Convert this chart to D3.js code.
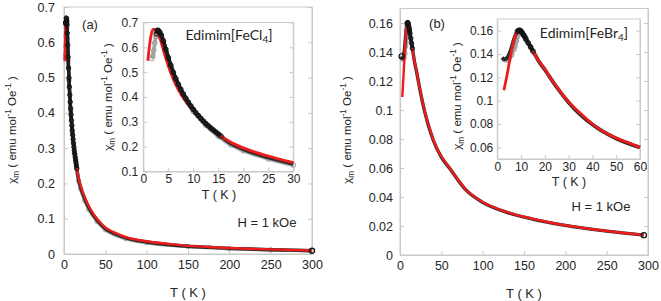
<!DOCTYPE html>
<html>
<head>
<meta charset="utf-8">
<script src="https://cdn.jsdelivr.net/npm/d3@7"></script>
<style>
body{margin:0;background:#fff}
text{font-family:"Liberation Sans",Arial,sans-serif;fill:#262626}
.lbl{font-family:Lato,"Noto Sans",sans-serif}
</style>
</head>
<body>
<svg id="chart" width="661" height="301"></svg>
<script>
// ---- data ----
// panel (a) Edimim[FeCl4]
var tFitA = [0.9,1.2,1.5,1.8,2.1,2.5,3,3.5,4,5,6,7,8,9,10,11,12.5,14,15,17.5,20,22.5,25,27.5,30,35,40,50,60,75,100,125,150,175,200,250,300]
var chiFitA = [0.546,0.600,0.643,0.667,0.673,0.668,0.652,0.625,0.590,0.525,0.472,0.430,0.396,0.368,0.345,0.324,0.293,0.267,0.250,0.218,0.195,0.177,0.162,0.148,0.136,0.116,0.100,0.075,0.062,0.048,0.036,0.029,0.023,0.020,0.017,0.013,0.010]
var tDatA = [2.6,2.8,3,3.3,3.6,4,4.5,5,5.5,6,6.5,7,7.5,8,8.5,9,9.5,10,10.5,11,11.5,12,12.5,13,13.5,14,14.5,15,15.5,17.5,20,25,30,40,50,60,75,100,125,150,175,200,225,250,275,300]
var chiDatA = [0.655,0.668,0.668,0.661,0.649,0.626,0.592,0.558,0.527,0.499,0.474,0.451,0.431,0.412,0.395,0.379,0.364,0.350,0.337,0.325,0.314,0.303,0.293,0.284,0.275,0.267,0.259,0.251,0.243,0.213,0.190,0.157,0.131,0.096,0.072,0.059,0.046,0.034,0.027,0.022,0.019,0.016,0.014,0.012,0.011,0.009]
var tGrayA = [1.7,1.9,2.1,2.3,2.5,2.7,3,3.5,4,5,6,8,10,12.5,15,17.5,20,25,30,40,50,75,100,150,200,250,300]
var chiGrayA = [0.555,0.565,0.588,0.618,0.643,0.657,0.658,0.640,0.612,0.548,0.492,0.405,0.342,0.286,0.242,0.207,0.184,0.151,0.126,0.092,0.069,0.043,0.032,0.021,0.015,0.012,0.009]

// panel (b) Edimim[FeBr4]
var tFitB = [2.8,3.5,4,5,6,7,8,9,10,11,12,13,15,17.5,20,22.5,25,27.5,30,35,40,45,50,55,60,70,80,100,130,160,200,240,295]
var chiFitB = [0.109,0.116,0.121,0.132,0.143,0.152,0.158,0.1605,0.160,0.157,0.153,0.149,0.142,0.134,0.127,0.119,0.112,0.105,0.099,0.089,0.080,0.073,0.068,0.064,0.060,0.052,0.045,0.0365,0.0295,0.025,0.0205,0.0172,0.0138]
var tDatB = [2,2.5,3,3.5,4,4.5,5,5.5,6,6.5,7,7.5,8,8.5,9,9.5,10,10.5,11,11.5,12,13,14,15,17.5,20,25,30,40,50,60,80,100,130,160,200,250,295]
var chiDatB = [0.137,0.136,0.1355,0.1357,0.1365,0.138,0.140,0.1425,0.1455,0.149,0.1525,0.1555,0.158,0.1595,0.1602,0.1603,0.1595,0.158,0.1565,0.155,0.153,0.1495,0.146,0.1425,0.1335,0.1265,0.1115,0.0985,0.0795,0.0675,0.0598,0.0447,0.0363,0.0293,0.0248,0.0204,0.0165,0.0137]
var tGrayB = [3,4,5,6,7,7.5,8,8.5,9,9.5,10,11,12]
var chiGrayB = [0.135,0.135,0.136,0.139,0.144,0.147,0.151,0.155,0.158,0.159,0.159,0.156,0.152]

// ticks
var xTicksMain = [0,50,100,150,200,250,300]
var yTicksA = [0,0.1,0.2,0.3,0.4,0.5,0.6,0.7]
var xTicksAIn = [0,5,10,15,20,25,30]
var yTicksAIn = [0.1,0.2,0.3,0.4,0.5,0.6,0.7]
var yTicksB = [0,0.02,0.04,0.06,0.08,0.1,0.12,0.14,0.16]
var xTicksBIn = [0,10,20,30,40,50,60]
var yTicksBIn = [0.06,0.08,0.1,0.12,0.14,0.16]

var svg = d3.select("#chart")
var red = "#ee1c1c"
var frameCol = "#c9c9c9"
var fmt = function(d){ return String(+d.toFixed(3)) }

function zip(t, c){
  return t.map(function(d, i){ return {t: d, c: c[i]} })
}

function yTitle(g, x, y, size){
  var t = g.append("text")
      .attr("transform", "translate(" + x + "," + y + ") rotate(-90)")
      .attr("text-anchor", "middle")
      .style("font-size", size + "px")
  var sub = size * 0.72
  t.append("tspan").text("χ")
  t.append("tspan").attr("dy", size * 0.3).style("font-size", sub + "px").text("m")
  t.append("tspan").attr("dy", -size * 0.3).text(" ( emu mol")
  t.append("tspan").attr("dy", -size * 0.4).style("font-size", sub + "px").text("-1")
  t.append("tspan").attr("dy", size * 0.4).text(" Oe")
  t.append("tspan").attr("dy", -size * 0.4).style("font-size", sub + "px").text("-1")
  t.append("tspan").attr("dy", size * 0.4).text(" )")
}

// one plot area (main or inset)
function plot(o){
  var x = d3.scaleLinear().domain(o.xd).range(o.xr)
  var y = d3.scaleLinear().domain(o.yd).range(o.yr)
  var g = svg.append("g")

  g.append("rect")
      .attr("x", o.xr[0]).attr("y", o.yr[1])
      .attr("width", o.xr[1] - o.xr[0]).attr("height", o.yr[0] - o.yr[1])
      .attr("fill", "#fff").attr("stroke", frameCol).attr("stroke-width", 1)

  var ax = g.append("g")
      .attr("transform", "translate(0," + o.yr[0] + ")")
      .call(d3.axisBottom(x).tickValues(o.xt).tickSizeInner(-4).tickSizeOuter(0).tickPadding(o.xpad).tickFormat(fmt))
  var ay = g.append("g")
      .attr("transform", "translate(" + o.xr[0] + ",0)")
      .call(d3.axisLeft(y).tickValues(o.yt).tickSizeInner(-4).tickSizeOuter(0).tickPadding(o.ypad).tickFormat(fmt))
  var ar = g.append("g")
      .attr("transform", "translate(" + o.xr[1] + ",0)")
      .call(d3.axisRight(y).tickValues(o.yt).tickSizeInner(-4).tickSizeOuter(0).tickFormat(""))
  ;[ax, ay, ar].forEach(function(a){
    a.select(".domain").attr("stroke", frameCol)
    a.selectAll(".tick line").attr("stroke", frameCol)
    a.selectAll(".tick text").style("font-size", o.fs + "px").attr("fill", "#262626")
  })

  var inX = function(d){ return d.t >= o.xd[0] && d.t <= o.xd[1] }
  var line = d3.line()
      .x(function(d){ return x(d.t) })
      .y(function(d){ return y(d.c) })
      .curve(d3.curveMonotoneX)

  var gray = zip(o.tg, o.cg).filter(inX)
  var dat = zip(o.td, o.cd).filter(inX)
  var fit = zip(o.tf, o.cf).filter(inX)
  var top = dat.filter(function(d){ return d.t >= o.topFrom && d.t <= 15.5 })

  // gray measurement
  g.append("path").datum(gray).attr("d", line)
      .attr("fill", "none").attr("stroke", "#a8a8a8").attr("stroke-width", o.lw + 1)
  g.append("g").selectAll("circle").data(gray).enter().append("circle")
      .attr("cx", function(d){ return x(d.t) }).attr("cy", function(d){ return y(d.c) })
      .attr("r", o.r).attr("fill", "none").attr("stroke", "#9a9a9a").attr("stroke-width", 0.9)

  // black measurement underneath
  g.append("path").datum(dat).attr("d", line)
      .attr("fill", "none").attr("stroke", "#2a2a2a").attr("stroke-width", o.lw + 1)

  // red fit
  g.append("path").datum(fit).attr("d", line)
      .attr("fill", "none").attr("stroke", red).attr("stroke-width", o.lw)

  // black open circles drawn over the fit near the peak
  g.append("path").datum(top).attr("d", line)
      .attr("fill", "none").attr("stroke", "#1e1e1e").attr("stroke-width", o.lw + 1)
  g.append("g").selectAll("circle").data(top).enter().append("circle")
      .attr("cx", function(d){ return x(d.t) }).attr("cy", function(d){ return y(d.c) })
      .attr("r", o.r).attr("fill", "none").attr("stroke", "#111").attr("stroke-width", 1)

  // end markers
  if(o.endMark){
    var last = dat[dat.length - 1], first = dat[0]
    ;[first, last].forEach(function(d){
      g.append("circle").attr("cx", x(d.t)).attr("cy", y(d.c)).attr("r", 2.6)
        .attr("fill", "none").attr("stroke", "#111").attr("stroke-width", 1.2)
    })
  }
  return g
}

// ---- panel (a) ----
plot({xd: [0, 300], xr: [64, 312], yd: [0, 0.7], yr: [254, 7], xt: xTicksMain, yt: yTicksA,
      xpad: 6, ypad: 9, fs: 12.5, lw: 2.4, r: 2.2, topFrom: 2.5, endMark: true,
      tf: tFitA, cf: chiFitA, td: tDatA, cd: chiDatA, tg: tGrayA, cg: chiGrayA})
svg.append("text").attr("x", 188).attr("y", 297).attr("text-anchor", "middle").style("font-size", "13px").text("T ( K )")
yTitle(svg, 16, 130, 11.5)
svg.append("text").attr("x", 90).attr("y", 29).attr("text-anchor", "middle").style("font-size", "13px").text("(a)")
svg.append("text").attr("x", 267).attr("y", 227).attr("text-anchor", "middle").style("font-size", "13px").text("H = 1 kOe")

plot({xd: [0, 30], xr: [143.3, 293.3], yd: [0.1, 0.7], yr: [171.5, 22.5], xt: xTicksAIn, yt: yTicksAIn,
      xpad: 3, ypad: 5, fs: 12, lw: 2.8, r: 2.4, topFrom: 2.5, endMark: false,
      tf: tFitA, cf: chiFitA, td: tDatA, cd: chiDatA, tg: tGrayA, cg: chiGrayA})
svg.append("text").attr("x", 219).attr("y", 199).attr("text-anchor", "middle").style("font-size", "12.5px").text("T ( K )")
yTitle(svg, 112, 97, 11.5)
var la = svg.append("text").attr("class", "lbl").attr("x", 229).attr("y", 40).attr("text-anchor", "middle").style("font-size", "14px")
la.append("tspan").text("Edimim[FeCl")
la.append("tspan").attr("dy", 3).style("font-size", "10px").text("4")
la.append("tspan").attr("dy", -3).text("]")

// ---- panel (b) ----
plot({xd: [0, 300], xr: [400, 648], yd: [0, 0.17], yr: [255, 8.5], xt: xTicksMain, yt: yTicksB,
      xpad: 6, ypad: 7, fs: 12.5, lw: 2.4, r: 2.2, topFrom: 8.5, endMark: true,
      tf: tFitB, cf: chiFitB, td: tDatB, cd: chiDatB, tg: tGrayB, cg: chiGrayB})
svg.append("text").attr("x", 524).attr("y", 298).attr("text-anchor", "middle").style("font-size", "13px").text("T ( K )")
yTitle(svg, 351, 130, 11.5)
svg.append("text").attr("x", 437).attr("y", 28).attr("text-anchor", "middle").style("font-size", "13px").text("(b)")
svg.append("text").attr("x", 601).attr("y", 211).attr("text-anchor", "middle").style("font-size", "13px").text("H = 1 kOe")

plot({xd: [0, 60], xr: [497.3, 640], yd: [0.05, 0.17], yr: [159, 19], xt: xTicksBIn, yt: yTicksBIn,
      xpad: 3, ypad: 4, fs: 12, lw: 2.8, r: 2.4, topFrom: 8.5, endMark: false,
      tf: tFitB, cf: chiFitB, td: tDatB, cd: chiDatB, tg: tGrayB, cg: chiGrayB})
svg.append("text").attr("x", 569).attr("y", 186).attr("text-anchor", "middle").style("font-size", "12.5px").text("T ( K )")
yTitle(svg, 461, 96, 11.5)
var lb = svg.append("text").attr("class", "lbl").attr("x", 584).attr("y", 38).attr("text-anchor", "middle").style("font-size", "14px")
lb.append("tspan").text("Edimim[FeBr")
lb.append("tspan").attr("dy", 3).style("font-size", "10px").text("4")
lb.append("tspan").attr("dy", -3).text("]")
</script>
</body>
</html>
